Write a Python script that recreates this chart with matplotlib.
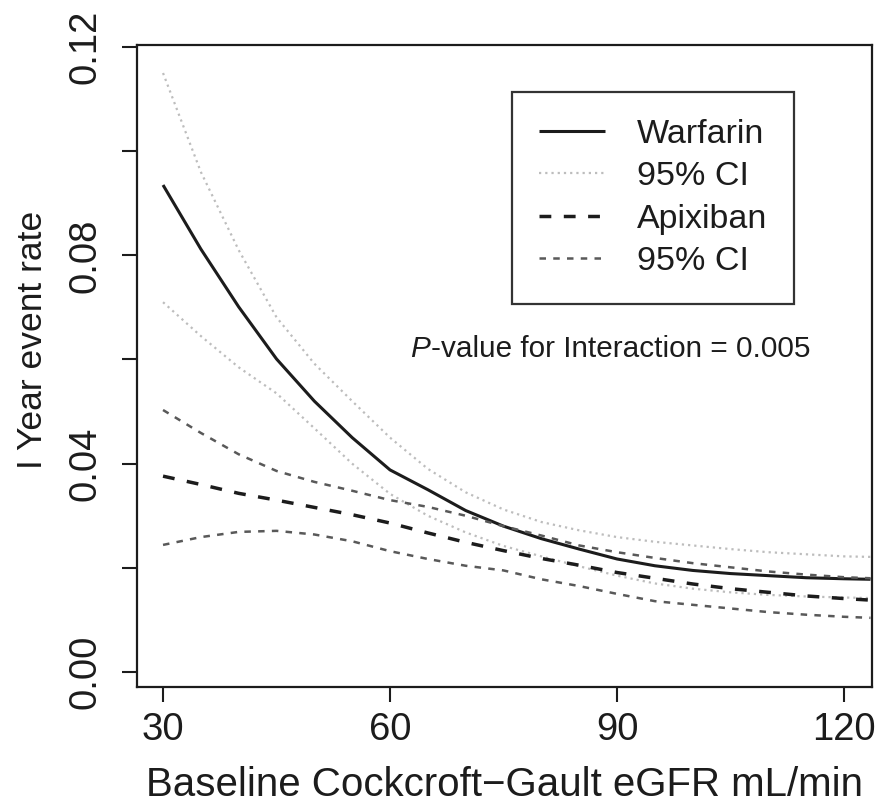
import matplotlib
matplotlib.use("Agg")
import matplotlib.pyplot as plt
from matplotlib.lines import Line2D
from matplotlib import font_manager

# ---- data ----
egfr = [30, 35, 40, 45, 50, 55, 60, 65, 70, 75, 80, 85, 90, 95, 100, 105, 110, 115, 120, 123.5]

warfarin = [0.0935, 0.0812, 0.0701, 0.0601, 0.0520, 0.0450, 0.0388, 0.0350, 0.0310, 0.0280,
            0.0256, 0.0236, 0.0217, 0.0204, 0.0195, 0.0189, 0.0185, 0.0181, 0.0179, 0.0178]
warfarin_hi = [0.1150, 0.0960, 0.0810, 0.0681, 0.0592, 0.0520, 0.0450, 0.0390, 0.0345, 0.0312,
               0.0288, 0.0272, 0.0259, 0.0250, 0.0243, 0.0236, 0.0230, 0.0226, 0.0222, 0.0221]
warfarin_lo = [0.0710, 0.0645, 0.0585, 0.0535, 0.0468, 0.0400, 0.0342, 0.0300, 0.0268, 0.0242,
               0.0222, 0.0203, 0.0185, 0.0170, 0.0160, 0.0153, 0.0148, 0.0145, 0.0143, 0.0142]

apixaban = [0.0376, 0.0360, 0.0343, 0.0330, 0.0316, 0.0302, 0.0286, 0.0267, 0.0249, 0.0233,
            0.0218, 0.0205, 0.0191, 0.0180, 0.0169, 0.0160, 0.0153, 0.0146, 0.0141, 0.0138]
apixaban_hi = [0.0503, 0.0459, 0.0418, 0.0386, 0.0365, 0.0348, 0.0330, 0.0317, 0.0300, 0.0280,
               0.0262, 0.0243, 0.0230, 0.0219, 0.0209, 0.0201, 0.0193, 0.0187, 0.0182, 0.0180]
apixaban_lo = [0.0244, 0.0259, 0.0269, 0.0271, 0.0264, 0.0251, 0.0232, 0.0217, 0.0204, 0.0195,
               0.0178, 0.0165, 0.0150, 0.0136, 0.0129, 0.0122, 0.0115, 0.0110, 0.0106, 0.0104]

x_ticks = [30, 60, 90, 120]
y_ticks = [0.00, 0.02, 0.04, 0.06, 0.08, 0.10, 0.12]
y_tick_labels = ["0.00", "", "0.04", "", "0.08", "", "0.12"]

legend_labels = ["Warfarin", "95% CI", "Apixiban", "95% CI"]
x_label = "Baseline Cockcroft\u2212Gault eGFR mL/min"
y_label = "I Year event rate"
p_text = "-value for Interaction = 0.005"

# ---- style ----
plt.rcParams["font.family"] = ["Liberation Sans", "DejaVu Sans"]
names = {f.name for f in font_manager.fontManager.ttflist}
narrow = "Liberation Sans Narrow" if "Liberation Sans Narrow" in names else "Liberation Sans"

ink = "#1c1c1c"
W, H, DPI = 881, 806, 100
fig = plt.figure(figsize=(W / DPI, H / DPI), dpi=DPI)
ax = fig.add_axes([137 / W, 1 - 687 / H, (872 - 137) / W, (687 - 45) / H])

sty_w = dict(color=ink, lw=2.2, solid_capstyle="butt")
sty_wci = dict(color="#bdbdbd", lw=1.6, linestyle=(0, (1.0, 1.8)))
sty_a = dict(color=ink, lw=2.5, linestyle=(0, (3.4, 3.6)))
sty_aci = dict(color="#595959", lw=1.8, linestyle=(0, (2.6, 2.9)))

ax.plot(egfr, warfarin, **sty_w)
ax.plot(egfr, warfarin_hi, **sty_wci)
ax.plot(egfr, warfarin_lo, **sty_wci)
ax.plot(egfr, apixaban, **sty_a)
ax.plot(egfr, apixaban_hi, **sty_aci)
ax.plot(egfr, apixaban_lo, **sty_aci)

ax.set_xlim(26.56, 123.7)
ax.set_ylim(-0.00288, 0.12038)
ax.set_xticks(x_ticks)
ax.set_xticklabels([str(v) for v in x_ticks])
ax.set_yticks(y_ticks)
ax.set_yticklabels(y_tick_labels, rotation=90, va="center")

for s in ax.spines.values():
    s.set_linewidth(1.6)
    s.set_color(ink)
ax.tick_params(axis="both", length=11, width=1.5, color=ink, labelsize=27.5, labelcolor=ink)
ax.tick_params(axis="x", pad=7)
ax.tick_params(axis="y", pad=13)

ax.set_xlabel(x_label, fontsize=29, color=ink, labelpad=13)
ax.set_ylabel(y_label, fontsize=25.5, color=ink)
ax.yaxis.set_label_coords(-0.12, 0.54)

handles = [Line2D([], [], **sty_w), Line2D([], [], **sty_wci),
           Line2D([], [], **sty_a), Line2D([], [], **sty_aci)]
leg = ax.legend(handles, legend_labels, loc="upper left",
                bbox_to_anchor=(512 / W, 1 - 92 / H), bbox_transform=fig.transFigure,
                fontsize=24.5, frameon=True, fancybox=False, framealpha=1,
                edgecolor="#333333", handlelength=1.95, handletextpad=0.95,
                borderpad=0.78, labelspacing=0.34, borderaxespad=0)
leg.get_frame().set_linewidth(1.6)
for t in leg.get_texts():
    t.set_color(ink)

tp = ax.text(410 / W, 1 - 357 / H, "P", transform=fig.transFigure, fontsize=21.4,
             family=narrow, style="italic", color=ink, ha="left", va="baseline")
ax.annotate(p_text, xy=(1, 0), xycoords=tp, xytext=(0.5, 0), textcoords="offset points",
            fontsize=21.4, family=narrow, color=ink, ha="left", va="bottom")

fig.savefig("out.png", dpi=DPI)
